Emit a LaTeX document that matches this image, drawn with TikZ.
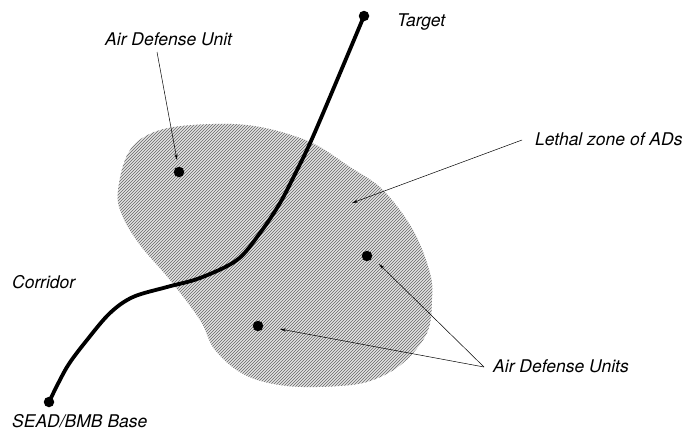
\documentclass[tikz,border=0pt]{standalone}
\usepackage{fontspec}
\setmainfont{TeX Gyre Heros}
\usetikzlibrary{arrows.meta,patterns}
\begin{document}
\begin{tikzpicture}[x=1pt,y=-1pt,
  lbl/.style={anchor=base west,inner sep=0pt,font=\fontsize{17.5}{20}\selectfont\itshape},
  dot/.style={circle,fill=black,inner sep=0pt,minimum size=10.5pt},
  pointer/.style={line width=0.5pt,-{Stealth[length=6pt,width=3pt]}},
  corridorline/.style={line width=3.8pt,line cap=round}]
\useasboundingbox (0,0) rectangle (682,439);
% lethal zone
\path[fill=gray!22] plot[smooth cycle,tension=0.6] coordinates {
 (118,190) (130,150) (160,130) (213,124) (260,127) (310,142) (350,167)
 (383,190) (413,230) (430,273) (432,300) (427,333) (403,363) (373,380)
 (340,386) (287,386) (245,375) (215,350) (200,320) (170,280) (140,245) (122,215)};
\path[pattern=north east lines,pattern color=black!60] plot[smooth cycle,tension=0.6] coordinates {
 (118,190) (130,150) (160,130) (213,124) (260,127) (310,142) (350,167)
 (383,190) (413,230) (430,273) (432,300) (427,333) (403,363) (373,380)
 (340,386) (287,386) (245,375) (215,350) (200,320) (170,280) (140,245) (122,215)};
% corridor
\draw[corridorline] plot[smooth,tension=0.55] coordinates {
 (49,402) (67,367) (87,340) (110,313) (133,297) (167,287) (200,278)
 (237,260) (260,233) (280,203) (296,172) (315,132) (364,16)};
% dots
\node[dot] (base) at (49,402) {};
\node[dot] (target) at (364,16) {};
\node[dot] (adu) at (179,172) {};
\node[dot] (adr) at (367,256) {};
\node[dot] (adb) at (258,326) {};
% labels
\node[lbl] (ltarget) at (397,27) {Target};
\node[lbl] (ladu) at (105,45) {Air Defense Unit};
\node[lbl] (llethal) at (535,145) {Lethal zone of ADs};
\node[lbl] (lcorr) at (12,288) {Corridor};
\node[lbl] (lunits) at (493,372) {Air Defense Units};
\node[lbl] (lbase) at (12,427) {SEAD/BMB Base};
% pointers
\coordinate (s1) at (157,52);
\coordinate (t1) at (177,160);
\coordinate (s2) at (522,140);
\coordinate (t2) at (352,203);
\coordinate (s3) at (484,367);
\coordinate (t3) at (379,264);
\coordinate (t4) at (280,329);
\draw[pointer] (s1) -- (t1);
\draw[pointer] (s2) -- (t2);
\draw[pointer] (s3) -- (t3);
\draw[pointer] (s3) -- (t4);
\end{tikzpicture}
\end{document}
